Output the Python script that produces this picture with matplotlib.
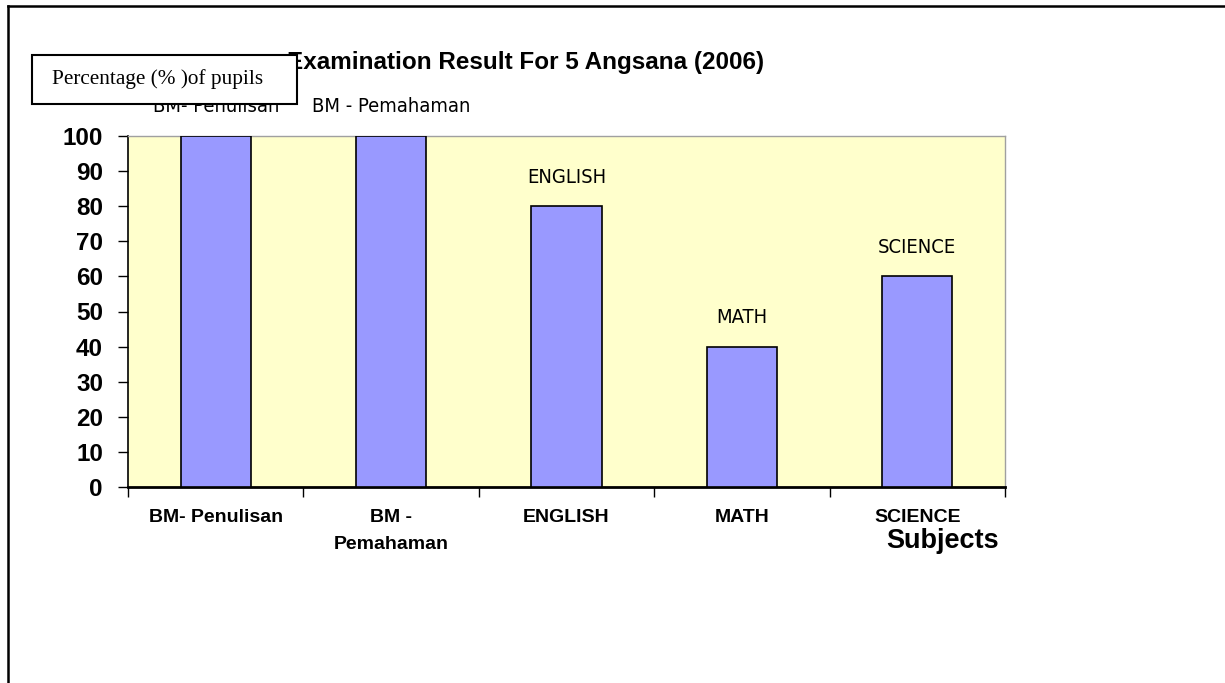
import matplotlib
matplotlib.use("Agg")
import matplotlib.pyplot as plt
from matplotlib.lines import Line2D
import numpy as np

subjects = ["BM- Penulisan", "BM - Pemahaman", "ENGLISH", "MATH", "SCIENCE"]
tick_labels = ["BM- Penulisan", "BM -\nPemahaman", "ENGLISH", "MATH", "SCIENCE"]
percentages = [100, 100, 80, 40, 60]
yticks = list(range(0, 101, 10))

W, H = 1225, 683
fig = plt.figure(figsize=(W / 100, H / 100), dpi=100)
fig.patch.set_facecolor("white")

L, R, T, B = 128, 1005, 136, 487
ax = fig.add_axes([L / W, 1 - B / H, (R - L) / W, (B - T) / H])
ax.set_facecolor("#FFFFCC")

x = np.arange(len(subjects))
bars = ax.bar(x, percentages, width=0.4, color="#9999FF", edgecolor="black", linewidth=1.2, zorder=3)

ax.set_xlim(-0.5, len(subjects) - 0.5)
ax.set_ylim(0, 100)

# data labels (category names) above bars
for xi, v, s in zip(x, percentages, subjects):
    ax.annotate(s, (xi, v), xytext=(0, 21), textcoords="offset points",
                ha="center", va="center", fontsize=14.5, fontstretch="condensed",
                family=["DejaVu Sans"], color="black")

# y axis
ax.set_yticks(yticks)
ax.set_yticklabels([str(t) for t in yticks], fontsize=17.5, fontweight="bold",
                   family=["Liberation Sans", "DejaVu Sans"])
ax.tick_params(axis="y", direction="out", length=7, width=1, pad=11)

# x axis: labels at centres, ticks at boundaries
ax.set_xticks(x)
ax.set_xticklabels(tick_labels, fontsize=14, fontweight="bold",
                   family=["Liberation Sans", "DejaVu Sans"], linespacing=1.75)
ax.tick_params(axis="x", which="major", length=0, pad=16)
ax.set_xticks(np.arange(len(subjects) + 1) - 0.5, minor=True)
ax.tick_params(axis="x", which="minor", direction="out", length=7, width=1)
for lab in ax.get_xticklabels():
    lab.set_verticalalignment("top")

ax.spines["left"].set_color("black")
ax.spines["left"].set_linewidth(1.2)
ax.spines["bottom"].set_color("black")
ax.spines["bottom"].set_linewidth(2)
ax.spines["top"].set_color("#A0A0A0")
ax.spines["right"].set_color("#A0A0A0")
ax.spines["top"].set_linewidth(1)
ax.spines["right"].set_linewidth(1)

# title
fig.text(526 / W, 1 - 62 / H, "Examination Result For 5 Angsana (2006)", ha="center", va="center",
         fontsize=17.5, fontweight="bold", family=["Liberation Sans", "DejaVu Sans"])

# y-axis label in a box
box = plt.Rectangle((32 / W, 1 - 104 / H), (297 - 32) / W, (104 - 55) / H, transform=fig.transFigure,
                    facecolor="white", edgecolor="black", linewidth=1.5, zorder=5)
fig.patches.append(box)
t = fig.text(52 / W, 1 - 79 / H, "Percentage (% )of pupils", ha="left", va="center",
             fontsize=15.3, family=["Liberation Serif", "DejaVu Serif"])
t.set_zorder(6)

# x axis title
fig.text(943 / W, 1 - 541 / H, "Subjects", ha="center", va="center",
         fontsize=19.5, fontweight="bold", family=["Liberation Sans", "DejaVu Sans"])

# outer frame (top and left)
fig.add_artist(Line2D([8 / W, 1], [1 - 6 / H, 1 - 6 / H], transform=fig.transFigure, color="black", linewidth=1.8))
fig.add_artist(Line2D([8 / W, 8 / W], [1 - 6 / H, 0], transform=fig.transFigure, color="black", linewidth=1.8))

fig.savefig("out.png", dpi=100)
